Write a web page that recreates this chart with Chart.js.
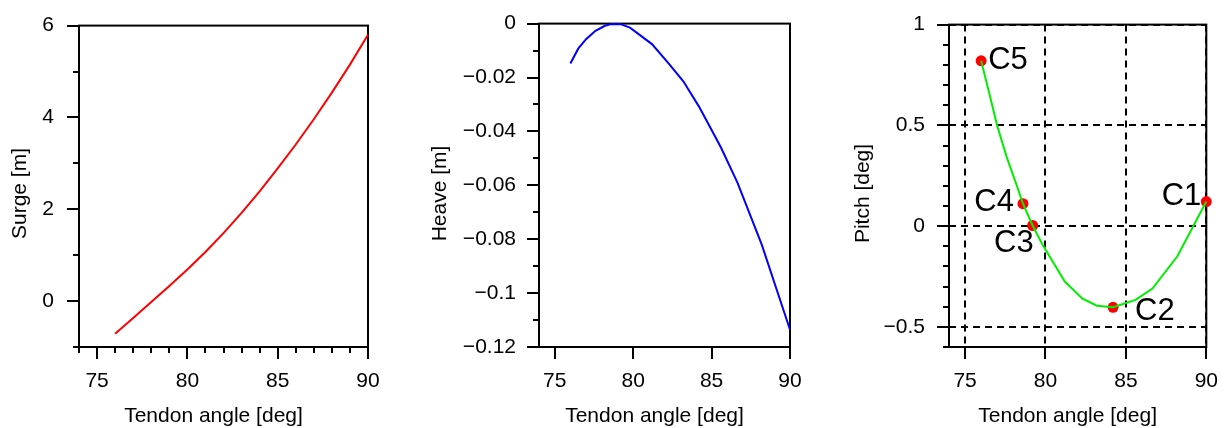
<!DOCTYPE html>
<html>
<head>
<meta charset="utf-8">
<script src="https://cdn.jsdelivr.net/npm/chart.js@4"></script>
<style>
  body { margin: 0; background: #fff; }
  #wrap { position: relative; width: 1228px; height: 428px; overflow: hidden; }
  canvas { position: absolute; top: 0; }
</style>
</head>
<body>
<div id="wrap">
  <canvas id="surgeChart" width="400" height="428" style="left:0px"></canvas>
  <canvas id="heaveChart" width="409" height="428" style="left:409px"></canvas>
  <canvas id="pitchChart" width="410" height="428" style="left:818px"></canvas>
</div>
<script>
const FONT = "'Liberation Sans', Arial, Helvetica, sans-serif";

// surge offset vs tendon angle
const surgeAngles = [76, 77, 78, 79, 80, 81, 82, 83, 84, 85, 86, 87, 88, 89, 90];
const surge = [-0.71, -0.37, -0.02, 0.33, 0.69, 1.07, 1.48, 1.92, 2.39, 2.89, 3.41, 3.96, 4.54, 5.15, 5.80];

// heave and pitch share the same angle steps
const angles = [76, 76.5, 77, 77.6, 78.2, 78.6, 79.2, 79.8, 81.2, 82.3, 83.2, 84.2, 85.6, 86.65, 88.2, 90];
const heave = [-0.0148, -0.0093, -0.0058, -0.0027, -0.0008, -0.0002, -0.0002, -0.0015, -0.0076, -0.0150, -0.0214, -0.0308, -0.0460, -0.0590, -0.0820, -0.1136];
const pitch = [0.82, 0.66, 0.497, 0.34, 0.205, 0.111, 0.003, -0.09, -0.275, -0.36, -0.395, -0.403, -0.366, -0.31, -0.15, 0.122];

// load cases marked on the pitch curve
const caseNames = ["C1", "C2", "C3", "C4", "C5"];
const caseAngles = [90, 84.2, 79.2, 78.6, 76];
const casePitch = [0.122, -0.403, 0.003, 0.111, 0.82];

const angleTicks = [75, 80, 85, 90];
const surgeTicks = [0, 2, 4, 6];
const heaveTicks = [0, -0.02, -0.04, -0.06, -0.08, -0.1, -0.12];
const pitchTicks = [-0.5, 0, 0.5, 1];

const angleMinor = [74, 76, 77, 78, 79, 81, 82, 83, 84, 86, 87, 88, 89];
const surgeMinor = [-1, 1, 3, 5];
const heaveMinor = [-0.01, -0.03, -0.05, -0.07, -0.09, -0.11];
const pitchMinor = [-0.6, -0.4, -0.3, -0.2, -0.1, 0.1, 0.2, 0.3, 0.4, 0.6, 0.7, 0.8, 0.9];

// label placement next to each case marker
const caseLabelPos = {
  C1: { align: "right", dx: -5, dy: -5 },
  C2: { align: "left", dx: 22, dy: 4 },
  C3: { align: "right", dx: 1, dy: 18 },
  C4: { align: "right", dx: -9, dy: -1 },
  C5: { align: "left", dx: 7, dy: 0 }
};

function points(xs, ys) {
  return xs.map((x, i) => ({ x: x, y: ys[i] }));
}

function fmt(v) {
  if (Math.abs(v) < 1e-9) return "0";
  return String(+v.toFixed(4)).replace("-", "\u2212");
}

// box, minor ticks and axis titles
const frame = {
  id: "frame",
  beforeDatasetsDraw(chart, args, o) {
    const { ctx, chartArea: a } = chart;
    ctx.save();
    ctx.lineWidth = 2;
    ctx.strokeStyle = "#000";
    ctx.strokeRect(a.left, a.top, a.right - a.left, a.bottom - a.top);

    ctx.beginPath();
    (o.xMinor || []).forEach(v => {
      const x = Math.round(chart.scales.x.getPixelForValue(v));
      ctx.moveTo(x, a.bottom);
      ctx.lineTo(x, a.bottom + 6);
    });
    (o.yMinor || []).forEach(v => {
      const y = Math.round(chart.scales.y.getPixelForValue(v));
      ctx.moveTo(a.left - 6, y);
      ctx.lineTo(a.left, y);
    });
    ctx.stroke();

    ctx.fillStyle = "#000";
    ctx.font = "21px " + FONT;
    ctx.textAlign = "center";
    ctx.textBaseline = "alphabetic";
    ctx.fillText(o.xTitle, (a.left + a.right) / 2 - 10, 422);
    ctx.translate(a.left - o.yTitleGap, 193.5);
    ctx.rotate(-Math.PI / 2);
    ctx.fillText(o.yTitle, 0, 0);
    ctx.restore();
  }
};

const caseLabels = {
  id: "caseLabels",
  afterDatasetsDraw(chart, args, o) {
    if (!o.names) return;
    const meta = chart.getDatasetMeta(o.dataset);
    const { ctx } = chart;
    ctx.save();
    ctx.fillStyle = "#000";
    ctx.font = "31px " + FONT;
    ctx.textBaseline = "middle";
    meta.data.forEach((pt, i) => {
      const p = caseLabelPos[o.names[i]];
      ctx.textAlign = p.align;
      ctx.fillText(o.names[i], pt.x + p.dx, pt.y + p.dy);
    });
    ctx.restore();
  }
};

function axisOptions(min, max, ticks, opts) {
  return {
    type: "linear",
    min: min,
    max: max,
    afterBuildTicks: s => { s.ticks = ticks.map(v => ({ value: v })); },
    afterFit: s => {
      if (opts.width) s.width = opts.width;
      if (opts.height) s.height = opts.height;
    },
    border: { display: false, dash: opts.dashed ? [7, 5] : [] },
    grid: {
      drawOnChartArea: !!opts.dashed,
      color: "#000",
      lineWidth: 2,
      tickLength: 12,
      tickWidth: 2,
      tickColor: "#000",
      tickBorderDash: []
    },
    ticks: {
      color: "#000",
      font: { family: FONT, size: 21 },
      padding: opts.pad,
      maxRotation: 0,
      autoSkip: false,
      callback: v => fmt(v)
    }
  };
}

function makeChart(id, cfg) {
  return new Chart(document.getElementById(id), {
    type: "scatter",
    data: { datasets: cfg.datasets },
    options: {
      responsive: false,
      animation: false,
      events: [],
      layout: { padding: { top: 20, right: cfg.padRight, left: 0, bottom: 0 } },
      plugins: {
        legend: { display: false },
        tooltip: { enabled: false },
        frame: cfg.frame,
        caseLabels: cfg.labels || {}
      },
      scales: {
        x: axisOptions(74, 90, angleTicks, { height: 81, pad: 10, dashed: cfg.dashed }),
        y: axisOptions(cfg.yMin, cfg.yMax, cfg.yTicks, { width: cfg.left, pad: cfg.yPad, dashed: cfg.dashed })
      }
    },
    plugins: [frame, caseLabels]
  });
}

function lineSet(data, color) {
  return {
    data: data,
    showLine: true,
    borderColor: color,
    borderWidth: 2,
    pointRadius: 0,
    tension: 0,
    clip: false
  };
}

makeChart("surgeChart", {
  datasets: [lineSet(points(surgeAngles, surge), "#ff0000")],
  left: 79, padRight: 32, yMin: -1, yMax: 6, yTicks: surgeTicks, yPad: 13,
  frame: { xTitle: "Tendon angle [deg]", yTitle: "Surge [m]", yTitleGap: 53, xMinor: angleMinor, yMinor: surgeMinor }
});

makeChart("heaveChart", {
  datasets: [lineSet(points(angles, heave), "#0000ff")],
  left: 130, padRight: 28, yMin: -0.12, yMax: 0, yTicks: heaveTicks, yPad: 11,
  frame: { xTitle: "Tendon angle [deg]", yTitle: "Heave [m]", yTitleGap: 93, yMinor: heaveMinor }
});

makeChart("pitchChart", {
  datasets: [
    lineSet(points(angles, pitch), "#00ee00"),
    {
      data: points(caseAngles, casePitch),
      pointRadius: 5.5,
      pointBackgroundColor: "#ff0000",
      pointBorderWidth: 0,
      clip: false
    }
  ],
  left: 131, padRight: 14, yMin: -0.6, yMax: 1, yTicks: pitchTicks, yPad: 12, dashed: true,
  frame: { xTitle: "Tendon angle [deg]", yTitle: "Pitch [deg]", yTitleGap: 80, yMinor: pitchMinor },
  labels: { names: caseNames, dataset: 1 }
});
</script>
</body>
</html>
